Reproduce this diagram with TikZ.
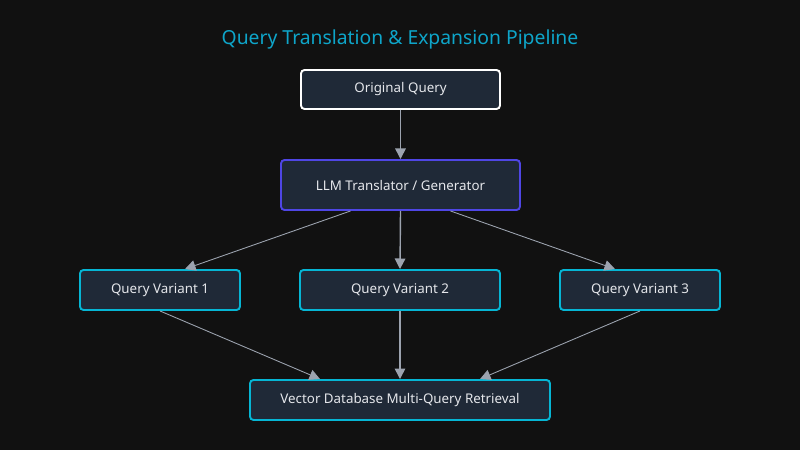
\documentclass[tikz,border=0pt]{standalone}
\usepackage{fontspec}
\setmainfont{Noto Sans}
\usetikzlibrary{arrows.meta}
\definecolor{bg}{HTML}{111111}
\definecolor{boxfill}{HTML}{1F2937}
\definecolor{txt}{HTML}{E5E7EB}
\definecolor{cyanb}{HTML}{06B6D4}
\definecolor{purpleb}{HTML}{4F46E5}
\definecolor{arrowc}{HTML}{9CA3AF}
\definecolor{titlec}{HTML}{0EA5C9}
\begin{document}
\begin{tikzpicture}[x=0.02cm,y=-0.02cm,
  box/.style={draw, line width=1.1pt, fill=boxfill, rounded corners=2pt, text=txt, font=\fontsize{7.6}{9}\selectfont, inner sep=0pt, align=center},
  cyanbox/.style={box, draw=cyanb},
  conn/.style={draw=arrowc, line width=0.8pt, -{Triangle[length=6pt,width=6pt]}},
  thinconn/.style={draw=arrowc, line width=0.5pt, -{Triangle[length=6pt,width=6pt]}}]
\fill[bg] (0,0) rectangle (800,450);
\useasboundingbox (0,0) rectangle (800,450);
\node[text=titlec, font=\fontsize{11}{13}\selectfont] (title) at (400,39) {Query Translation \& Expansion Pipeline};
\node[box, draw=white, minimum width=199*0.02cm, minimum height=39*0.02cm] (orig) at (400.5,89.5) {Original Query};
\node[box, draw=purpleb, minimum width=239*0.02cm, minimum height=50*0.02cm] (llm) at (400.5,185) {LLM Translator / Generator};
\node[cyanbox, minimum width=160*0.02cm, minimum height=40*0.02cm] (v1) at (160,290) {Query Variant 1};
\node[cyanbox, minimum width=200*0.02cm, minimum height=40*0.02cm] (v2) at (400,290) {Query Variant 2};
\node[cyanbox, minimum width=160*0.02cm, minimum height=40*0.02cm] (v3) at (640,290) {Query Variant 3};
\node[cyanbox, minimum width=300*0.02cm, minimum height=40*0.02cm] (db) at (400,400) {Vector Database Multi-Query Retrieval};
\draw[conn] (orig.south) -- (llm.north);
\draw[conn] (llm.south) -- (v2.north);
\draw[thinconn] ([xshift=-50*0.02cm]llm.south) -- ([xshift=25*0.02cm]v1.north);
\draw[thinconn] ([xshift=50*0.02cm]llm.south) -- ([xshift=-25*0.02cm]v3.north);
\draw[conn] (v2.south) -- (db.north);
\draw[thinconn] (v1.south) -- ([xshift=-80*0.02cm]db.north);
\draw[thinconn] (v3.south) -- ([xshift=80*0.02cm]db.north);
\end{tikzpicture}
\end{document}
